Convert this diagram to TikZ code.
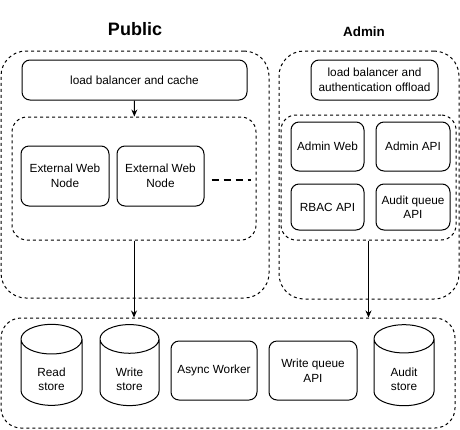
\documentclass[tikz,border=0pt]{standalone}
\usepackage{fontspec}
\setmainfont{Liberation Sans}
\usepackage{tikz}
\usetikzlibrary{shapes.geometric, positioning, arrows.meta}
\newcommand{\dblabel}[2]{\raisebox{-8pt}[\height][\depth]{\begin{tabular}{@{}c@{}}#1\\#2\end{tabular}}}

\tikzset{
  box/.style={draw, line width=1pt, rounded corners=8pt, align=center,
    font=\fontsize{11.8}{14.5}\selectfont, inner sep=0pt},
  group/.style={draw, line width=1pt, dash pattern=on 3pt off 3pt, inner sep=0pt},
  store/.style={draw, line width=1pt, cylinder, shape border rotate=90,
    aspect=1.05, font=\fontsize{11.8}{14.5}\selectfont, inner sep=0pt},
  flow/.style={line width=1pt, -{Stealth[length=7pt,width=6pt]}},
}

\begin{document}
\begin{tikzpicture}[x=1pt, y=-1pt]
\useasboundingbox (0,0) rectangle (460,429);

% titles
\node[font=\bfseries\fontsize{18}{20}\selectfont] (pubtitle) at (135,29) {Public};
\node[font=\bfseries\fontsize{13.4}{15}\selectfont] (admtitle) at (364,32) {Admin};

% public side
\node[group, rounded corners=25pt, minimum width=268, minimum height=247] (pub) at (135,174.5) {};
\node[box, minimum width=225, minimum height=40] (publb) at (134.5,80) {load balancer and cache};
\node[group, rounded corners=15pt, minimum width=244, minimum height=123] (pubweb) at (134,178.5) {};
\node[box, minimum width=88, minimum height=60] (ext1) at (65,176) {External Web\\Node};
\node[box, minimum width=87, minimum height=60] (ext2) at (160.5,176) {External Web\\Node};
\draw[line width=2pt, dash pattern=on 7pt off 5pt] ([xshift=7pt,yshift=-4pt]ext2.east) -- ([xshift=46pt,yshift=-4pt]ext2.east);

% admin side
\node[group, rounded corners=25pt, minimum width=180, minimum height=248] (adm) at (369,175) {};
\node[box, minimum width=127, minimum height=40] (admlb) at (374.5,80) {load balancer and\\authentication offload};
\node[group, rounded corners=15pt, minimum width=175, minimum height=125] (admweb) at (368.5,177.5) {};
\node[box, minimum width=73, minimum height=49] (admui) at (327.5,146.5) {Admin Web};
\node[box, minimum width=74, minimum height=49] (admapi) at (413,146.5) {Admin API};
\node[box, minimum width=73, minimum height=46] (rbac) at (327.5,207) {RBAC API};
\node[box, minimum width=74, minimum height=46] (auditq) at (413,207) {Audit queue\\API};

% storage
\node[group, rounded corners=20pt, minimum width=454, minimum height=110] (stores) at (228,373) {};
\node[store, minimum width=61, minimum height=81] (readdb) at (51.5,372.5) {\dblabel{Read}{store}};
\node[store, minimum width=59, minimum height=81] (writedb) at (129.5,372.5) {\dblabel{Write}{store}};
\node[box, minimum width=86, minimum height=59] (async) at (214,370.5) {Async Worker};
\node[box, minimum width=88, minimum height=59] (writeq) at (313,370.5) {Write queue\\API};
\node[store, minimum width=60, minimum height=81] (auditdb) at (404,372.5) {\dblabel{Audit}{store}};

\draw[flow] (publb) -- (pubweb);
\draw[flow] (pubweb.south) -- (pubweb.south |- stores.north);
\draw[flow] (admweb.south) -- (admweb.south |- stores.north);
\end{tikzpicture}
\end{document}
